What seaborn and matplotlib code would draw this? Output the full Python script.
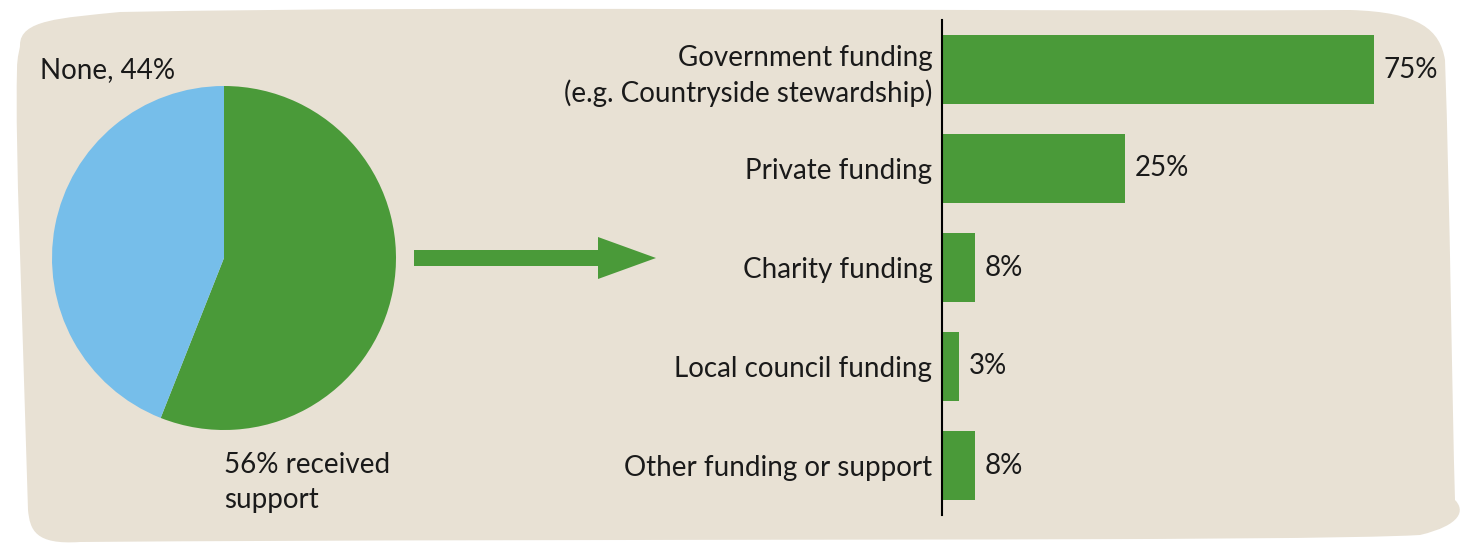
import matplotlib
matplotlib.use("Agg")
import matplotlib.pyplot as plt
import seaborn as sns
from matplotlib.path import Path
from matplotlib.patches import PathPatch, FancyArrow

# Data
pie_labels = ["Received support", "None"]
pie_values = [56, 44]
categories = ["Government funding\n(e.g. Countryside stewardship)", "Private funding",
              "Charity funding", "Local council funding", "Other funding or support"]
bar_lengths = [75, 31.8, 5.7, 3.0, 5.7]   # bar lengths as drawn in the source
value_labels = ["75%", "25%", "8%", "3%", "8%"]

GREEN = "#4A9A39"
BLUE = "#76BEEA"
BEIGE = "#E8E1D4"
TEXT = "#1a1a1a"

sns.set_theme(style="white")
plt.rcParams["font.family"] = ["Lato", "DejaVu Sans"]
FS = 20

W, H = 1467, 545
fig = plt.figure(figsize=(W / 100, H / 100), dpi=100)
fig.patch.set_facecolor("white")

# background blob + arrow, drawn in pixel coords
bg = fig.add_axes([0, 0, 1, 1])
bg.set_zorder(-1)
bg.set_xlim(0, W)
bg.set_ylim(H, 0)
bg.axis("off")
verts = [(20, 45),
         (20, 20), (60, 18), (120, 12),
         (500, 5), (900, 12), (1350, 10),
         (1420, 12), (1440, 30), (1445, 60),
         (1450, 200), (1452, 400), (1455, 500),
         (1465, 510), (1462, 525), (1420, 535),
         (1300, 542), (600, 538), (80, 542),
         (35, 545), (30, 530), (28, 510),
         (22, 300), (15, 150), (17, 70),
         (17, 55), (20, 50), (20, 45)]
codes = [Path.MOVETO] + [Path.CURVE4] * (len(verts) - 1)
bg.add_patch(PathPatch(Path(verts, codes), facecolor=BEIGE, edgecolor="none"))
bg.add_patch(FancyArrow(414, 258, 242, 0, width=16, head_width=42, head_length=58,
                        length_includes_head=True, color=GREEN, lw=0))

# Pie chart
pie_ax = fig.add_axes([52 / W, (H - 258 - 172) / H, 344 / W, 344 / H])
pie_ax.pie(pie_values, colors=[GREEN, BLUE], startangle=90, counterclock=False,
           wedgeprops={"linewidth": 0})
pie_ax.set_xlim(-1, 1)
pie_ax.set_ylim(-1, 1)
fig.text(40 / W, 1 - 70 / H, "None, 44%", fontsize=FS, color=TEXT, ha="left", va="center")
fig.text(224 / W, 1 - 452 / H, "56% received\nsupport", fontsize=FS, color=TEXT,
         ha="left", va="top", linespacing=1.45)

# Bar chart
ax = fig.add_axes([942 / W, (H - 515) / H, 458 / W, 495 / H])
ax.set_facecolor("none")
sns.barplot(x=bar_lengths, y=categories, color=GREEN, orient="h", width=0.69,
            saturation=1, linewidth=0, ax=ax)
ax.set_xlim(0, 458 / 5.76)
ax.set_ylim(4.5, -0.5)
for i, (v, t) in enumerate(zip(bar_lengths, value_labels)):
    ax.text(v + 1.7, i, t, fontsize=FS, color=TEXT, va="center", ha="left")
ax.set_xticks([])
ax.tick_params(axis="y", length=0, pad=7, labelsize=FS, labelcolor=TEXT)
for lab in ax.get_yticklabels():
    lab.set_linespacing(1.38)
ax.spines["top"].set_visible(False)
ax.spines["right"].set_visible(False)
ax.spines["bottom"].set_visible(False)
ax.spines["left"].set_color("black")
ax.spines["left"].set_linewidth(1.5)
ax.set_xlabel("")
ax.set_ylabel("")

fig.savefig("out.png", dpi=100, facecolor="white")
